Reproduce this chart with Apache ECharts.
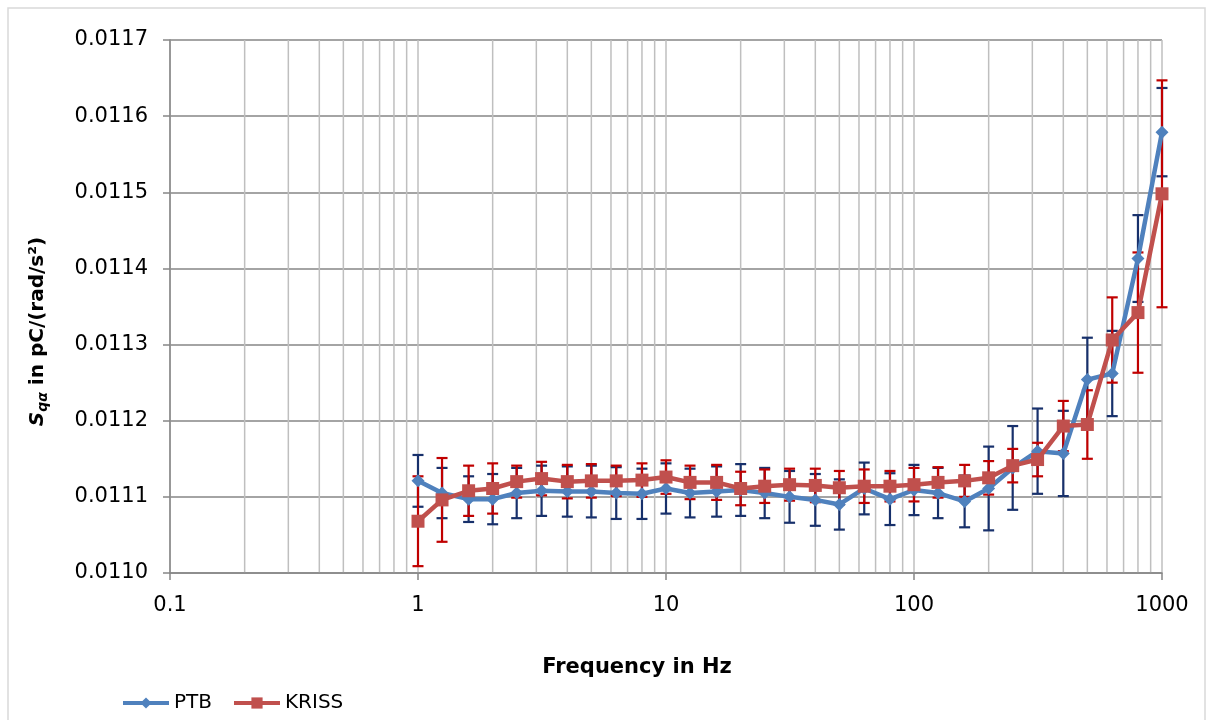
<!DOCTYPE html>
<html>
<head>
<meta charset="utf-8">
<script src="https://cdn.jsdelivr.net/npm/echarts@6/dist/echarts.min.js"></script>
<style>
html,body{margin:0;padding:0;background:#fff;}
#c{width:1214px;height:720px;}
</style>
</head>
<body>
<div id="c"></div>
<script>
// ---- data ----
const freqs = [1,1.25,1.6,2,2.5,3.15,4,5,6.3,8,10,12.5,16,20,25,31.5,40,50,63,80,100,125,160,200,250,315,400,500,630,800,1000];
const ptb = [0.011121,0.011105,0.011097,0.011097,0.011105,0.011108,0.011107,0.011107,0.011105,0.011104,0.011111,0.011105,0.011107,0.011109,0.011105,0.011100,0.011096,0.011090,0.011111,0.011097,0.011109,0.011105,0.011094,0.011111,0.011138,0.011160,0.011157,0.011254,0.011262,0.011413,0.011579];
const ptbErr = [0.000034,0.000033,0.000030,0.000033,0.000033,0.000033,0.000033,0.000034,0.000034,0.000033,0.000033,0.000032,0.000033,0.000034,0.000033,0.000034,0.000034,0.000033,0.000034,0.000034,0.000033,0.000033,0.000034,0.000055,0.000055,0.000056,0.000056,0.000055,0.000056,0.000057,0.000058];
const kriss = [0.011068,0.011096,0.011108,0.011111,0.011120,0.011124,0.011120,0.011121,0.011121,0.011122,0.011126,0.011119,0.011119,0.011111,0.011114,0.011116,0.011115,0.011112,0.011114,0.011114,0.011116,0.011119,0.011121,0.011125,0.011141,0.011149,0.011193,0.011195,0.011306,0.011342,0.011498];
const krissErr = [0.000059,0.000055,0.000033,0.000033,0.000021,0.000022,0.000022,0.000022,0.000020,0.000022,0.000022,0.000022,0.000023,0.000022,0.000022,0.000021,0.000022,0.000022,0.000022,0.000020,0.000022,0.000020,0.000021,0.000022,0.000022,0.000022,0.000033,0.000045,0.000056,0.000079,0.000149];
const xTickLabels = ['0.1','1','10','100','1000'];
const yMin = 0.0110, yMax = 0.0117, yStep = 0.0001;
const seriesNames = ['PTB','KRISS'];

// ---- helpers ----
const FONT = 'DejaVu Sans';
const minorGrid = [];
for (let d = 0.1; d < 1000; d *= 10) {
  for (let k = 2; k <= 9; k++) minorGrid.push([+(d * k).toPrecision(3)]);
}
function errData(vals, errs) {
  return freqs.map((f, i) => [f, vals[i] - errs[i], vals[i] + errs[i]]);
}
function errRender(color) {
  return function (params, api) {
    const f = api.value(0);
    const top = api.coord([f, api.value(2)]);
    const bot = api.coord([f, api.value(1)]);
    const w = 5.5;
    const style = {stroke: color, lineWidth: 2.2};
    return {
      type: 'group',
      children: [
        {type: 'line', shape: {x1: top[0], y1: top[1], x2: bot[0], y2: bot[1]}, style: style},
        {type: 'line', shape: {x1: top[0] - w, y1: top[1], x2: top[0] + w, y2: top[1]}, style: style},
        {type: 'line', shape: {x1: bot[0] - w, y1: bot[1], x2: bot[0] + w, y2: bot[1]}, style: style}
      ]
    };
  };
}

const chart = echarts.init(document.getElementById('c'), null, {renderer: 'canvas'});
chart.setOption({
  backgroundColor: '#ffffff',
  animation: false,
  graphic: [{
    type: 'rect', shape: {x: 8, y: 8, width: 1197, height: 740},
    style: {fill: 'none', stroke: '#d9d9d9', lineWidth: 1.5}, silent: true, z: -10
  }],
  grid: {left: 170, right: 52, top: 40, bottom: 147, containLabel: false},
  legend: {
    left: 116, top: 688,
    itemWidth: 46, itemHeight: 14, itemGap: 20,
    lineStyle: {width: 4},
    textStyle: {fontFamily: FONT, fontSize: 20, color: '#000'},
    data: seriesNames
  },
  xAxis: {
    type: 'log', logBase: 10, min: 0.1, max: 1000,
    name: 'Frequency in Hz', nameLocation: 'middle', nameGap: 84,
    nameTextStyle: {fontFamily: FONT, fontSize: 21, fontWeight: 'bold', color: '#000', padding: [0, 58, 0, 0]},
    axisLine: {show: true, lineStyle: {color: '#868686', width: 1.5}},
    axisTick: {show: true, length: 7, inside: false, lineStyle: {color: '#868686', width: 1.5}},
    axisLabel: {
      fontFamily: FONT, fontSize: 21, color: '#000', margin: 22,
      formatter: function (v) {
        const idx = Math.round(Math.log10(v)) + 1;
        return xTickLabels[idx] !== undefined ? xTickLabels[idx] : '';
      }
    },
    splitLine: {show: true, lineStyle: {color: '#bfbfbf', width: 1.5}},
    minorTick: {show: false}, minorSplitLine: {show: false}
  },
  yAxis: {
    type: 'value', min: yMin, max: yMax, interval: yStep,
    name: '{i|S}{sub|qα}{b| in pC/(rad/s²)}',
    nameLocation: 'middle', nameRotate: 90, nameGap: 120,
    nameTextStyle: {
      color: '#000',
      padding: [0, 50, 0, 0],
      rich: {
        i: {fontFamily: FONT, fontSize: 20, fontWeight: 'bold', fontStyle: 'italic', color: '#000'},
        sub: {fontFamily: FONT, fontSize: 14, fontWeight: 'bold', fontStyle: 'italic', color: '#000', verticalAlign: 'bottom', padding: [10, 0, 0, 0]},
        b: {fontFamily: FONT, fontSize: 20, fontWeight: 'bold', color: '#000'}
      }
    },
    axisLine: {show: true, lineStyle: {color: '#868686', width: 1.5}},
    axisTick: {show: true, length: 7, lineStyle: {color: '#868686', width: 1.5}},
    axisLabel: {
      fontFamily: FONT, fontSize: 21, color: '#000', margin: 22,
      formatter: v => v.toFixed(4)
    },
    splitLine: {show: true, lineStyle: {color: '#868686', width: 1.5}}
  },
  series: [
    {
      name: 'minorGrid', type: 'custom', silent: true, z: 0,
      data: minorGrid,
      renderItem: function (params, api) {
        const x = api.coord([api.value(0), yMin])[0];
        const cs = params.coordSys;
        return {type: 'line', shape: {x1: x, y1: cs.y, x2: x, y2: cs.y + cs.height},
          style: {stroke: '#bfbfbf', lineWidth: 1.5}};
      },
      tooltip: {show: false}
    },
    {
      name: 'PTB err', type: 'custom', z: 2, silent: true,
      data: errData(ptb, ptbErr), renderItem: errRender('#17306b'),
      encode: {x: 0, y: [1, 2]}
    },
    {
      name: 'KRISS err', type: 'custom', z: 3, silent: true,
      data: errData(kriss, krissErr), renderItem: errRender('#c00000'),
      encode: {x: 0, y: [1, 2]}
    },
    {
      name: 'PTB', type: 'line', z: 4,
      data: freqs.map((f, i) => [f, ptb[i]]),
      symbol: 'diamond', symbolSize: 13, showAllSymbol: true,
      lineStyle: {color: '#4f81bd', width: 4.5},
      itemStyle: {color: '#4f81bd'}
    },
    {
      name: 'KRISS', type: 'line', z: 5,
      data: freqs.map((f, i) => [f, kriss[i]]),
      symbol: 'rect', symbolSize: 13, showAllSymbol: true,
      lineStyle: {color: '#c0504d', width: 4.5},
      itemStyle: {color: '#c0504d'}
    }
  ]
});
</script>
</body>
</html>
